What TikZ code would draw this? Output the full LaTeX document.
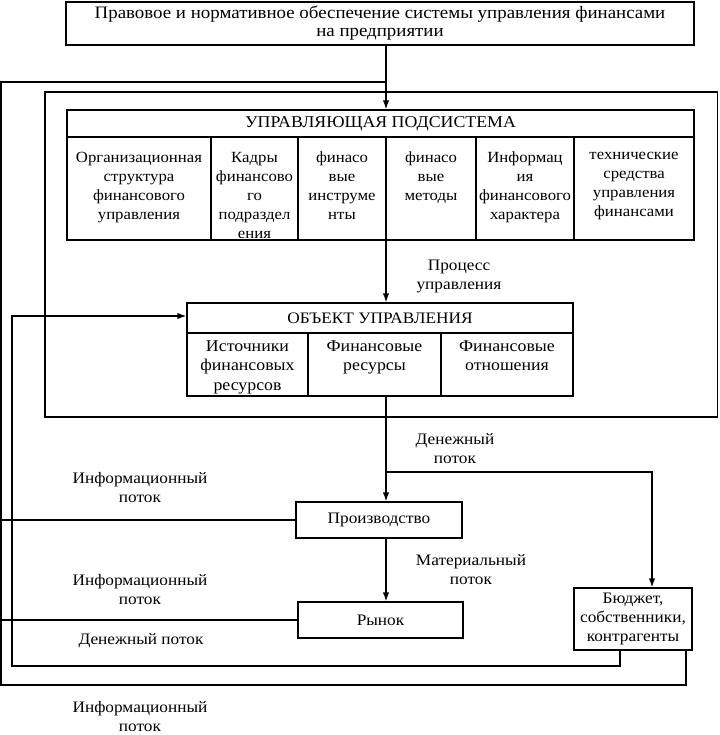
\documentclass[tikz,border=0pt]{standalone}
\usepackage{fontspec}
\setmainfont[FakeStretch=1.08]{Liberation Serif}
\usetikzlibrary{arrows.meta}
\begin{document}
\begin{tikzpicture}[x=1pt,y=-1pt,
  line width=1.35pt,
  every node/.style={font=\fontsize{16}{19}\selectfont, inner sep=0pt},
  box/.style={draw, rectangle},
  txt/.style={align=center},
  coltxt/.style={align=center, anchor=north, font=\fontsize{15.5}{19}\selectfont, execute at begin node={\strut}},
  objtxt/.style={align=center, anchor=north, font=\fontsize{16.5}{19.5}\selectfont, execute at begin node={\strut}},
  arr/.style={-{Latex[length=9pt,width=6.5pt]}}]
\useasboundingbox (0,0) rectangle (719,735);
% top box
\node[box, minimum width=628pt, minimum height=43pt, txt, font=\fontsize{17.5}{18}\selectfont] (top) at (380,23.5)
  {Правовое и нормативное обеспечение системы управления финансами\\на предприятии};
% frame
\draw (45,92) rectangle (717.5,417);
% subsystem
\node[box, minimum width=627pt, minimum height=27pt, font=\fontsize{16.5}{19}\selectfont] (sub) at (380.5,123.5) {УПРАВЛЯЮЩАЯ ПОДСИСТЕМА};
\node[box, minimum width=144pt, minimum height=103pt] (c1) at (139,188.5) {};
\node[box, minimum width=87pt, minimum height=103pt] (c2) at (254.5,188.5) {};
\node[box, minimum width=88pt, minimum height=103pt] (c3) at (342,188.5) {};
\node[box, minimum width=90pt, minimum height=103pt] (c4) at (431,188.5) {};
\node[box, minimum width=98pt, minimum height=103pt] (c5) at (525,188.5) {};
\node[box, minimum width=120pt, minimum height=103pt] (c6) at (634,188.5) {};
\node[coltxt] (t1) at ([yshift=-15pt]c1.north) {Организационная\\структура\\финансового\\управления};
\node[coltxt] (t2) at ([yshift=-15pt]c2.north) {Кадры\\финансово\\го\\подраздел\\ения};
\node[coltxt] (t3) at ([yshift=-15pt]c3.north) {финасо\\вые\\инструме\\нты};
\node[coltxt] (t4) at ([yshift=-15pt]c4.north) {финасо\\вые\\методы};
\node[coltxt] (t5) at ([yshift=-15pt]c5.north) {Информац\\ия\\финансового\\характера};
\node[coltxt] (t6) at ([yshift=-15pt]c6.north) {технические\\средства\\управления\\финансами};
% object
\node[box, minimum width=386pt, minimum height=30pt] (obj) at (380,318) {ОБЪЕКТ УПРАВЛЕНИЯ};
\node[box, minimum width=121pt, minimum height=63pt] (o1) at (247.5,364.5) {};
\node[box, minimum width=133pt, minimum height=63pt] (o2) at (374.5,364.5) {};
\node[box, minimum width=132pt, minimum height=63pt] (o3) at (507,364.5) {};
\node[objtxt] (u1) at ([yshift=-7.5pt]o1.north) {Источники\\финансовых\\ресурсов};
\node[objtxt] (u2) at ([yshift=-7.5pt]o2.north) {Финансовые\\ресурсы};
\node[objtxt] (u3) at ([yshift=-7.5pt]o3.north) {Финансовые\\отношения};
% lower boxes
\node[box, minimum width=166pt, minimum height=36pt] (prod) at (379,520) {Производство};
\node[box, minimum width=165pt, minimum height=36pt] (mkt) at (380.5,620) {Рынок};
\node[box, minimum width=118pt, minimum height=62pt, txt] (bud) at (633,619) {Бюджет,\\собственники,\\контрагенты};
% labels
\node[txt] (l1) at (459,276) {Процесс\\управления};
\node[txt] (l2) at (455,449) {Денежный\\поток};
\node[txt] (l3) at (471,570) {Материальный\\поток};
\node[txt] (l4) at (140,487.5) {Информационный\\поток};
\node[txt] (l5) at (140,590) {Информационный\\поток};
\node[txt] (l6) at (141,641) {Денежный поток};
\node[txt] (l7) at (140,717) {Информационный\\поток};
% coordinates
\coordinate (j1) at (386,82);
\coordinate (ol) at (1,82);
\coordinate (ob) at (1,685);
\coordinate (il) at (12,316);
\coordinate (ib) at (12,666);
\coordinate (br) at (386,472);
\coordinate (bx) at (652,472);
% connectors
\draw[arr] (top.south -| j1) -- (sub.north -| j1);
\draw (j1) -- (ol) -- (ob) -| ([xshift=53pt]bud.south);
\draw[arr] (c4.south -| br) -- (obj.north -| br);
\draw[arr] ([xshift=-13pt]bud.south) |- (ib) -- (il) -- (il -| obj.west);
\draw[arr] (o2.south -| br) -- (prod.north -| br);
\draw[arr] (br) -- (bx) -- (bud.north -| bx);
\draw (prod.west) -- (prod.west -| ol);
\draw[arr] (prod.south -| br) -- (mkt.north -| br);
\draw (mkt.west) -- (mkt.west -| ol);
\end{tikzpicture}
\end{document}
